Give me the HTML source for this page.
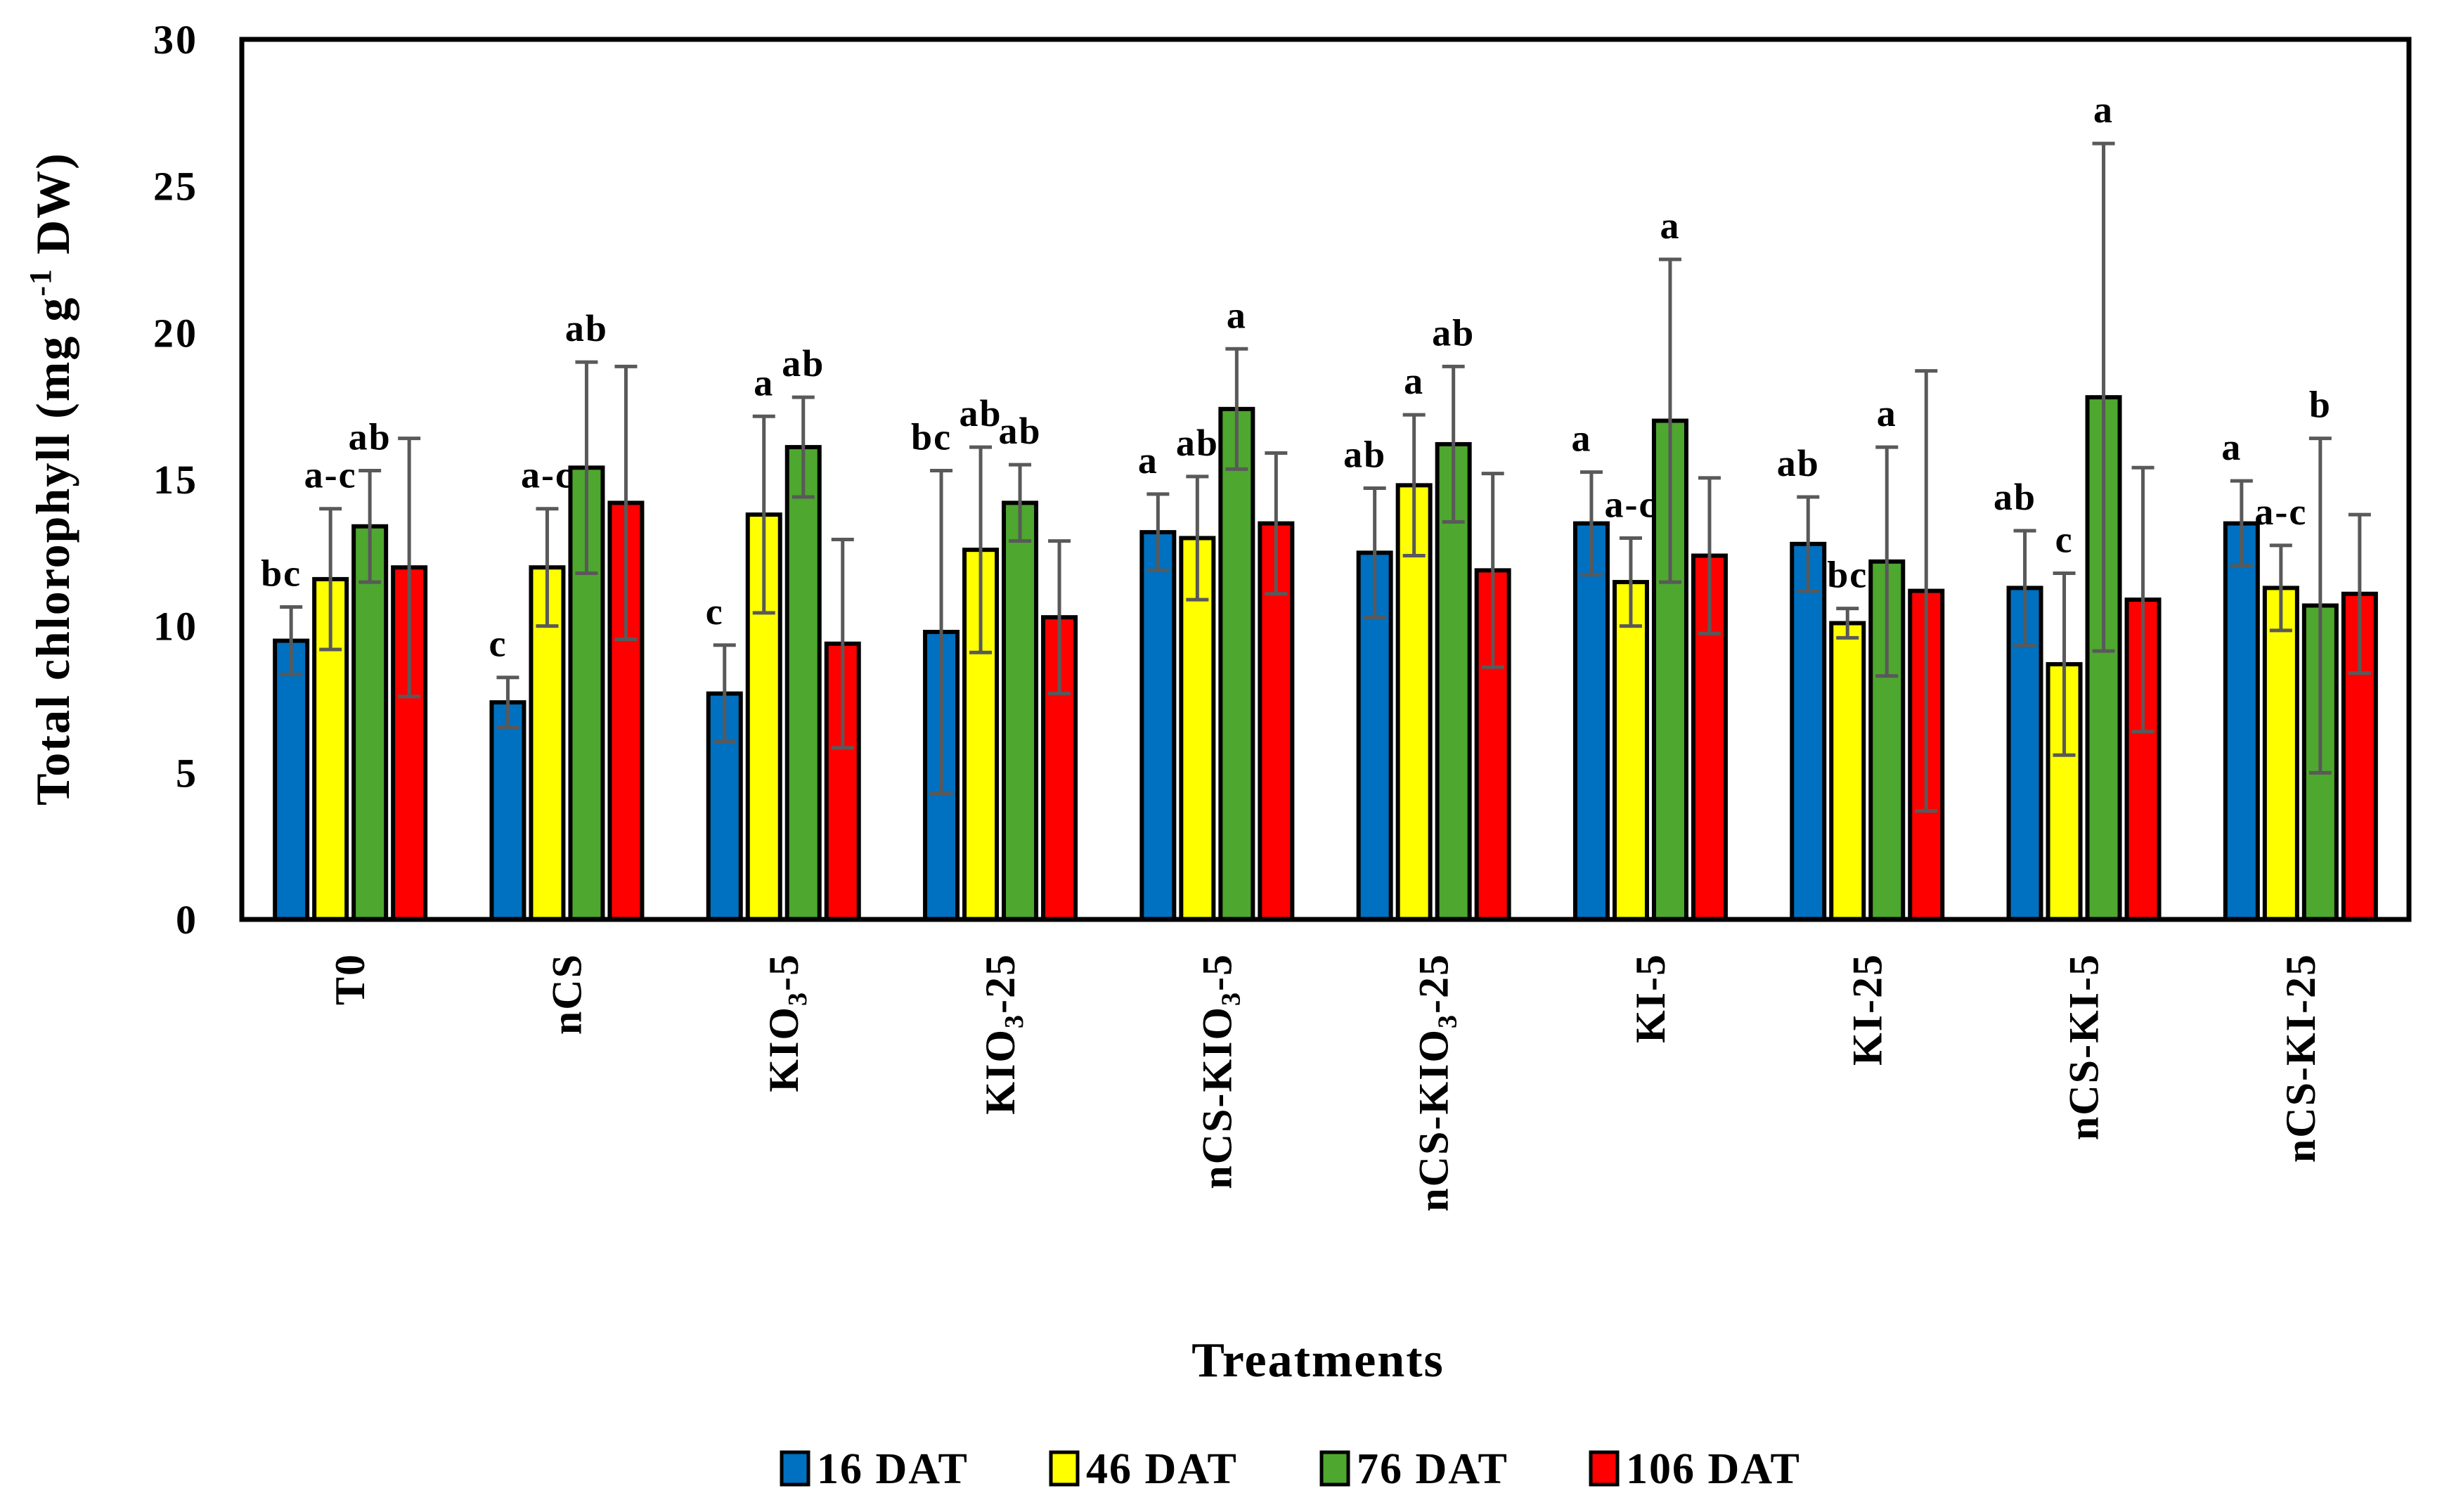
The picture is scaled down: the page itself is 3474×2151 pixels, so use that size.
<!DOCTYPE html>
<html><head><meta charset="utf-8"><style>
html,body{margin:0;padding:0;background:#fff}
svg{display:block}
text{font-family:"Liberation Serif",serif;font-weight:bold;fill:#000}
</style></head>
<body>
<svg id="chart" width="3474" height="2151" viewBox="0 0 3474 2151" xmlns="http://www.w3.org/2000/svg">
<rect x="0" y="0" width="3474" height="2151" fill="#fff"/>
<g id="plot"></g>
</svg>
<script>
const categories = ["T0","nCS","KIO3-5","KIO3-25","nCS-KIO3-5","nCS-KIO3-25","KI-5","KI-25","nCS-KI-5","nCS-KI-25"];
const seriesNames = ["16 DAT","46 DAT","76 DAT","106 DAT"];
const s16 = [9.5,7.4,7.7,9.8,13.2,12.5,13.5,12.8,11.3,13.5];
const s46 = [11.6,12.0,13.8,12.6,13.0,14.8,11.5,10.1,8.7,11.3];
const s76 = [13.4,15.4,16.1,14.2,17.4,16.2,17.0,12.2,17.8,10.7];
const s106 = [12.0,14.2,9.4,10.3,13.5,11.9,12.4,11.2,10.9,11.1];
const e16 = [1.15,0.85,1.65,5.5,1.3,2.2,1.75,1.6,1.95,1.45];
const e46 = [2.4,2.0,3.35,3.5,2.1,2.4,1.5,0.5,3.1,1.45];
const e76 = [1.9,3.6,1.7,1.3,2.05,2.65,5.5,3.9,8.65,5.7];
const e106 = [4.4,4.65,3.55,2.6,2.4,3.3,2.65,7.5,4.5,2.7];
const l16 = ["bc","c","c","bc","a","ab","a","ab","ab","a"];
const l46 = ["a-c","a-c","a","ab","ab","a","a-c","bc","c","a-c"];
const l76 = ["ab","ab","ab","ab","a","ab","a","a","a","b"];
const yTicks = [0,5,10,15,20,25,30];

const NS="http://www.w3.org/2000/svg";
const svg=document.getElementById('chart');
const plot=document.getElementById('plot');
const X0=344,X1=3427,Y0=1308,Y1=56,YMAX=30;
const colors=["#0070C0","#FFFF00","#4EA72E","#FF0000"];
const values=[s16,s46,s76,s106], errs=[e16,e46,e76,e106], labels=[l16,l46,l76,null];
const groupW=(X1-X0)/categories.length;
function y(v){return Y0-(v/YMAX)*(Y0-Y1);}
function gx(i){return X0+groupW*(i+0.5);}
function mk(tag,attrs,parent){const e=document.createElementNS(NS,tag);for(const k in attrs)e.setAttribute(k,attrs[k]);(parent||svg).appendChild(e);return e;}

yTicks.forEach(t=>{
  const tx=mk('text',{x:282,y:y(t)+20,'text-anchor':'end','font-size':58,'letter-spacing':3});
  tx.textContent=t;
  
  
});

categories.forEach((c,i)=>{
  for(let s=0;s<4;s++){
    const cx=gx(i)+(s-1.5)*56;
    const v=values[s][i], e=errs[s][i];
    const r=mk('rect',{x:cx-23,y:y(v),width:46,height:Y0-y(v),fill:colors[s],stroke:'#000','stroke-width':6},plot);
    
    
    const g=mk('g',{stroke:'#595959','stroke-width':5},plot);
    
    
    mk('line',{x1:cx,x2:cx,y1:y(v+e),y2:y(v-e)},g);
    mk('line',{x1:cx-16,x2:cx+16,y1:y(v+e),y2:y(v+e)},g);
    mk('line',{x1:cx-16,x2:cx+16,y1:y(v-e),y2:y(v-e)},g);
    if(labels[s]&&labels[s][i]){
      const lt=mk('text',{x:cx-(s===0?14:0),y:y(v+e)-30,'text-anchor':'middle','font-size':54,'letter-spacing':2},plot);
      lt.textContent=labels[s][i];
      
      
    }
  }
  const tx=mk('text',{transform:`translate(${gx(i)+20},1356) rotate(-90)`,'text-anchor':'end','font-size':60,'letter-spacing':2});
  
  
  const m=c.match(/^(.*KIO)3(.*)$/);
  if(m){
    const a=document.createElementNS(NS,'tspan');a.textContent=m[1];tx.appendChild(a);
    const b=document.createElementNS(NS,'tspan');b.textContent='3';b.setAttribute('font-size','38');b.setAttribute('dy','12');tx.appendChild(b);
    const d=document.createElementNS(NS,'tspan');d.textContent=m[2];d.setAttribute('dy','-12');tx.appendChild(d);
  } else tx.textContent=c;
});

const fr=mk('rect',{x:X0,y:Y1,width:X1-X0,height:Y0-Y1,fill:'none',stroke:'#000','stroke-width':7});



const yt=mk('text',{transform:'translate(98,681) rotate(-90)','text-anchor':'middle','font-size':68,'letter-spacing':2});


yt.innerHTML='Total chlorophyll  (mg g<tspan font-size="44" dy="-26">-1</tspan><tspan dy="26"> DW)</tspan>';

const xt=mk('text',{x:1875,y:1958,'text-anchor':'middle','font-size':70,'letter-spacing':2});
xt.textContent='Treatments';



const legX=[1112,1495,1880,2263];
seriesNames.forEach((n,s)=>{
  const g=mk('g',{});
  
  
  mk('rect',{x:legX[s],y:2066,width:38,height:46,fill:colors[s],stroke:'#000','stroke-width':5},g);
  const t=mk('text',{x:legX[s]+50,y:2110,'font-size':62,'letter-spacing':2},g);
  t.textContent=n;
});
</script>
</body></html>
